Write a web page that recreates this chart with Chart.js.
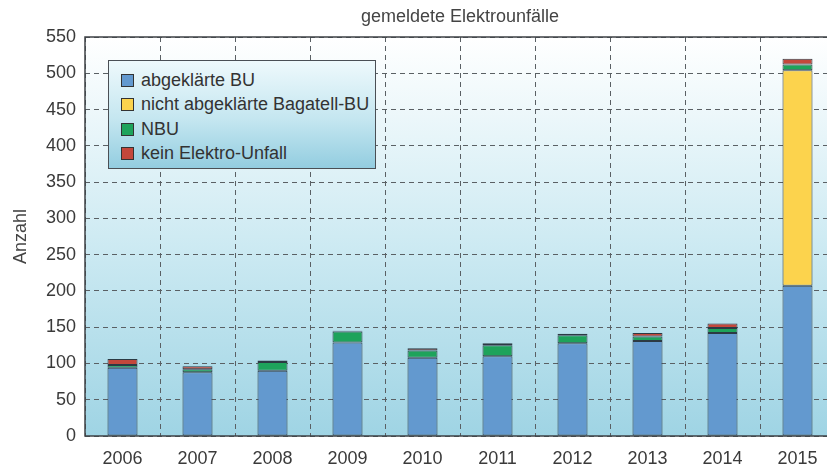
<!DOCTYPE html>
<html>
<head>
<meta charset="utf-8">
<script src="https://cdn.jsdelivr.net/npm/chart.js@4"></script>
<style>
  html, body { margin: 0; padding: 0; background: #fff; overflow: hidden; }
  #wrap { position: absolute; left: 0; top: 0; width: 836px; height: 466px; }
  #legendBox {
    position: absolute; left: 108px; top: 60px; width: 268px; height: 109px;
    border: 1.5px solid #4a4f55;
    background: linear-gradient(to bottom, #eef9fc 0%, #c4e6f0 55%, #93cde0 100%);
    font-family: "Liberation Sans", Arial, sans-serif; font-size: 18px; color: #333;
    padding-top: 7px; box-sizing: border-box;
  }
  .item { height: 24.3px; line-height: 24.3px; padding-left: 12px; white-space: nowrap; }
  .sw { display: inline-block; width: 11px; height: 11px; border: 1px solid #333; margin-right: 7px; vertical-align: -1px; }
</style>
</head>
<body>
<div id="wrap"><canvas id="chart"></canvas></div>
<div id="legendBox"></div>
<script>
// gemeldete Elektrounfälle, Anzahl pro Jahr
const years = ['2006', '2007', '2008', '2009', '2010', '2011', '2012', '2013', '2014', '2015'];
const abgeklaerteBU = [94, 88, 90, 129, 108, 110, 128, 131, 142, 207];
const bagatellBU = [null, null, null, null, null, null, null, null, null, 297];
const nbu = [4, 4, 12, 15, 10, 15, 11, 6, 7, 8];
const keinElektro = [8, 4, 2, 1, 3, 3, 2, 5, 6, 8];
const seriesNames = ['abgeklärte BU', 'nicht abgeklärte Bagatell-BU', 'NBU', 'kein Elektro-Unfall'];
const seriesColors = ['#6399cf', '#fcd34d', '#1ea35b', '#c4473b'];

const FONT = '"Liberation Sans", Arial, sans-serif';

const backgroundPlugin = {
  id: 'plotBackground',
  beforeDraw(chart) {
    const { ctx, chartArea } = chart;
    ctx.save();
    ctx.fillStyle = '#fff';
    ctx.fillRect(0, 0, chart.width, chart.height);
    const g = ctx.createLinearGradient(0, chartArea.top, 0, chartArea.bottom);
    g.addColorStop(0, '#ffffff');
    g.addColorStop(0.5, '#cfebf3');
    g.addColorStop(1, '#9fd4e4');
    ctx.fillStyle = g;
    ctx.fillRect(chartArea.left, chartArea.top, chartArea.right - chartArea.left, chartArea.bottom - chartArea.top);
    ctx.restore();
  },
  afterDatasetsDraw(chart) {
    const { ctx, chartArea } = chart;
    ctx.save();
    ctx.setLineDash([]);
    ctx.strokeStyle = '#3e4246';
    ctx.lineWidth = 1.5;
    ctx.strokeRect(chartArea.left, chartArea.top, chartArea.right - chartArea.left, chartArea.bottom - chartArea.top);
    ctx.restore();
  }
};

const datasets = [abgeklaerteBU, bagatellBU, nbu, keinElektro].map((values, i) => ({
  label: seriesNames[i],
  data: values,
  backgroundColor: seriesColors[i],
  borderColor: '#2c3a44',
  borderWidth: 1,
  borderSkipped: false
}));

new Chart(document.getElementById('chart'), {
  type: 'bar',
  data: { labels: years, datasets: datasets },
  options: {
    responsive: true,
    maintainAspectRatio: false,
    animation: false,
    categoryPercentage: 1,
    barPercentage: 0.4,
    layout: { padding: { left: 0, right: 1, top: 0, bottom: 0 } },
    plugins: {
      legend: { display: false },
      tooltip: { enabled: false },
      title: {
        display: true,
        text: 'gemeldete Elektrounfälle',
        fullSize: false,
        color: '#444',
        font: { family: FONT, size: 18, weight: 'normal' },
        padding: { top: 6, bottom: 9.4 }
      }
    },
    scales: {
      x: {
        stacked: true,
        grid: { color: '#5a6064', lineWidth: 1, drawTicks: false, offset: true },
        border: { display: false, dash: [5, 4] },
        ticks: { color: '#3a3a3a', font: { family: FONT, size: 18 }, padding: 12 },
        afterFit(scale) { scale.height = 30; }
      },
      y: {
        stacked: true,
        min: 0,
        max: 550,
        ticks: { stepSize: 50, color: '#3a3a3a', font: { family: FONT, size: 18 }, padding: 9 },
        grid: { color: '#5a6064', lineWidth: 1, drawTicks: false },
        border: { display: false, dash: [5, 4] },
        title: {
          display: true,
          text: 'Anzahl',
          color: '#444',
          font: { family: FONT, size: 18 },
          padding: { top: 10, bottom: 0 }
        },
        afterFit(scale) { scale.width = 85; }
      }
    }
  },
  plugins: [backgroundPlugin]
});

// legend box inside the plot, built from the series names
const box = document.getElementById('legendBox');
seriesNames.forEach((name, i) => {
  const row = document.createElement('div');
  row.className = 'item';
  row.innerHTML = '<span class="sw" style="background:' + seriesColors[i] + '"></span>' + name;
  box.appendChild(row);
});
</script>
</body>
</html>
